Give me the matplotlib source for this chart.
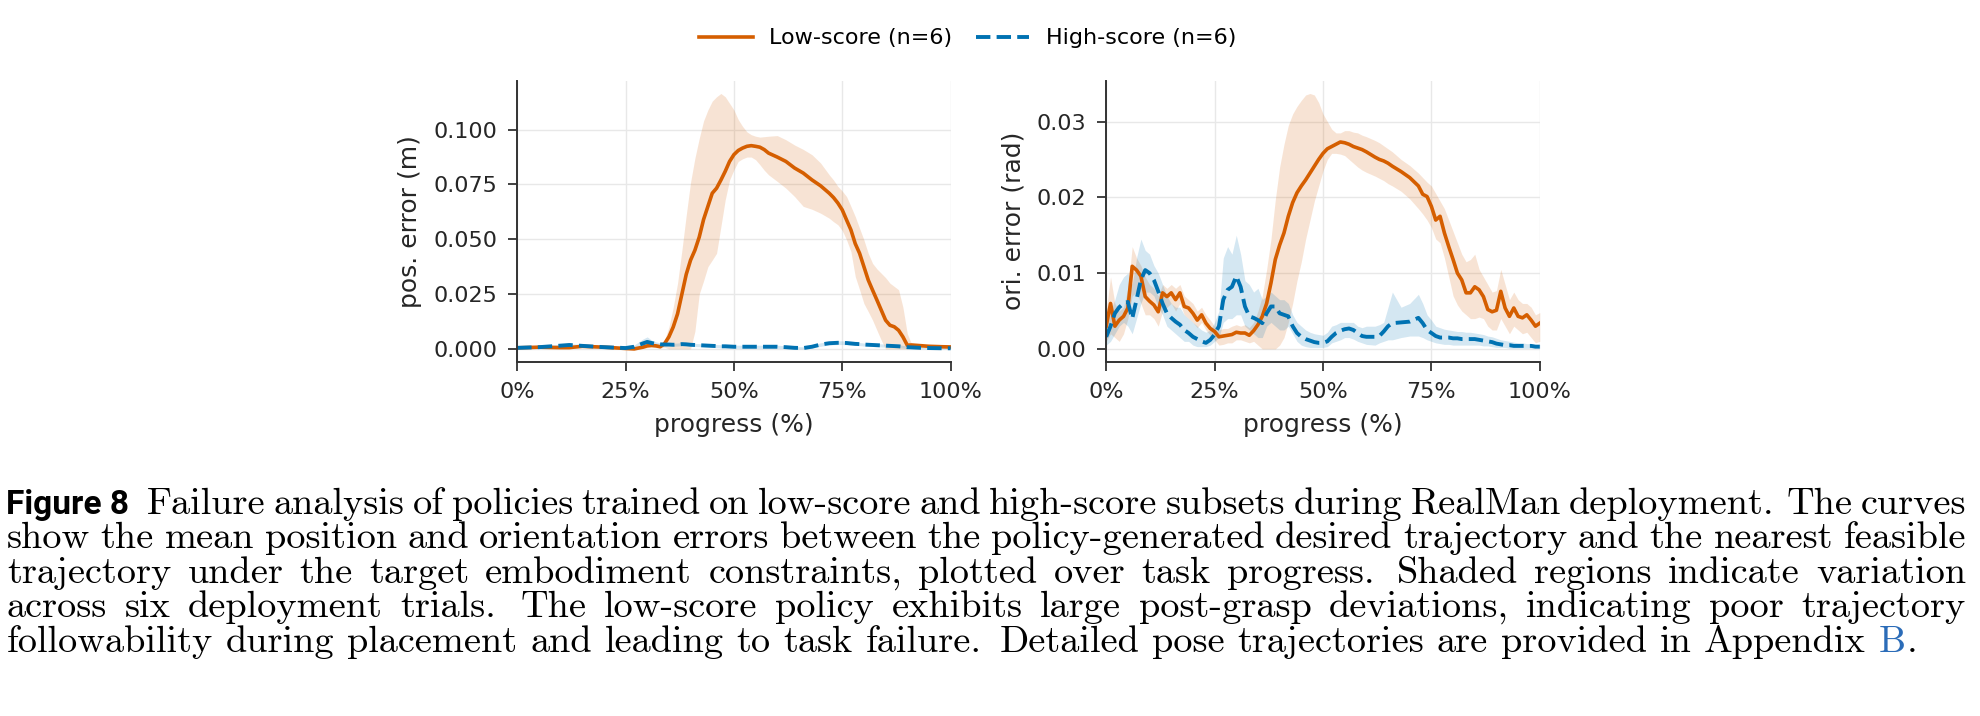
import matplotlib
matplotlib.use("Agg")
import matplotlib.pyplot as plt
from matplotlib.ticker import PercentFormatter, FormatStrFormatter

# ---------------- data ----------------
SERIES_LABELS = ["Low-score (n=6)", "High-score (n=6)"]
XTICKS = [0, 25, 50, 75, 100]
POS_YTICKS = [0.000, 0.025, 0.050, 0.075, 0.100]
ORI_YTICKS = [0.00, 0.01, 0.02, 0.03]

# left panel: position error (m)
pos_x = [0, 5, 10, 12, 15, 20, 25, 27, 29,
         30, 31, 32, 33, 34, 35, 36, 37, 38, 39,
         40, 41, 42, 43, 44, 45, 46, 47, 48, 49,
         50, 51, 52, 53, 54, 55, 56, 57, 58,
         60, 62, 64, 66, 68, 70, 72,
         73, 74, 75, 76, 77, 78, 79, 80, 81, 82, 83, 84, 85, 86, 87, 88, 89, 90, 91,
         93, 95, 98, 100]
pos_low_mean = [0.0005, 0.0008, 0.0006, 0.0006, 0.0012, 0.0008, 0.0002, 0.0000, 0.0008,
                0.0014, 0.0016, 0.0014, 0.0010, 0.0024, 0.0055, 0.0100, 0.0160, 0.0250, 0.0340,
                0.0405, 0.0450, 0.0510, 0.0590, 0.0650, 0.0710, 0.0733, 0.0770, 0.0810, 0.0855,
                0.0886, 0.0905, 0.0916, 0.0924, 0.0927, 0.0924, 0.0920, 0.0909, 0.0893,
                0.0875, 0.0855, 0.0825, 0.0802, 0.0771, 0.0744, 0.0710,
                0.0690, 0.0665, 0.0634, 0.0588, 0.0543, 0.0480, 0.0436, 0.0375, 0.0314, 0.0268,
                0.0223, 0.0177, 0.0131, 0.0108, 0.0101, 0.0085, 0.0055, 0.0017, 0.0018,
                0.0015, 0.0012, 0.0010, 0.0009]
pos_low_upper = [0.0012, 0.0015, 0.0012, 0.0012, 0.0018, 0.0013, 0.0006, 0.0004, 0.0014,
                 0.0022, 0.0024, 0.0022, 0.0018, 0.0040, 0.0100, 0.0190, 0.0300, 0.0450, 0.0610,
                 0.0760, 0.0870, 0.0960, 0.1040, 0.1090, 0.1130, 0.1150, 0.1165, 0.1150, 0.1120,
                 0.1090, 0.1046, 0.1015, 0.0990, 0.0977, 0.0970, 0.0966, 0.0968, 0.0970,
                 0.0973, 0.0954, 0.0930, 0.0910, 0.0886, 0.0848, 0.0794,
                 0.0770, 0.0741, 0.0720, 0.0695, 0.0650, 0.0604, 0.0550, 0.0497, 0.0436, 0.0390,
                 0.0365, 0.0345, 0.0325, 0.0300, 0.0285, 0.0270, 0.0190, 0.0070, 0.0022,
                 0.0020, 0.0018, 0.0016, 0.0015]
pos_low_lower = [0.0000, 0.0002, 0.0001, 0.0001, 0.0006, 0.0003, 0.0000, 0.0000, 0.0002,
                 0.0006, 0.0008, 0.0006, 0.0004, 0.0008, 0.0000, 0.0000, 0.0000, 0.0000, 0.0000,
                 0.0000, 0.0080, 0.0250, 0.0310, 0.0375, 0.0405, 0.0436, 0.0558, 0.0680, 0.0770,
                 0.0817, 0.0855, 0.0867, 0.0875, 0.0875, 0.0863, 0.0840, 0.0815, 0.0794,
                 0.0764, 0.0733, 0.0695, 0.0650, 0.0637, 0.0619, 0.0596,
                 0.0580, 0.0566, 0.0540, 0.0497, 0.0444, 0.0330, 0.0270, 0.0207, 0.0170, 0.0131,
                 0.0085, 0.0040, 0.0000, 0.0000, 0.0000, 0.0000, 0.0000, 0.0000, 0.0008,
                 0.0008, 0.0006, 0.0004, 0.0003]
pos_high_mean = [0.0005, 0.0008, 0.0015, 0.0018, 0.0014, 0.0008, 0.0004, 0.0010, 0.0025,
                 0.0032, 0.0027, 0.0023, 0.0021, 0.0020, 0.0020, 0.0019, 0.0020, 0.0022, 0.0021,
                 0.0019, 0.0018, 0.0017, 0.0016, 0.0015, 0.0014, 0.0013, 0.0012, 0.0012, 0.0011,
                 0.0010, 0.0010, 0.0010, 0.0010, 0.0010, 0.0010, 0.0010, 0.0010, 0.0010,
                 0.0010, 0.0008, 0.0005, 0.0004, 0.0010, 0.0020, 0.0026,
                 0.0027, 0.0028, 0.0028, 0.0027, 0.0025, 0.0023, 0.0022, 0.0020, 0.0019, 0.0018,
                 0.0017, 0.0016, 0.0015, 0.0014, 0.0013, 0.0012, 0.0010, 0.0008, 0.0007,
                 0.0005, 0.0004, 0.0003, 0.0003]
pos_high_upper = [0.0011, 0.0014, 0.0021, 0.0024, 0.0020, 0.0014, 0.0010, 0.0018, 0.0045,
                  0.0055, 0.0040, 0.0032, 0.0028, 0.0027, 0.0027, 0.0026, 0.0027, 0.0029, 0.0028,
                  0.0026, 0.0025, 0.0024, 0.0023, 0.0022, 0.0021, 0.0020, 0.0019, 0.0019, 0.0018,
                  0.0017, 0.0017, 0.0017, 0.0017, 0.0017, 0.0017, 0.0017, 0.0017, 0.0017,
                  0.0017, 0.0014, 0.0011, 0.0010, 0.0017, 0.0028, 0.0034,
                  0.0036, 0.0037, 0.0037, 0.0036, 0.0033, 0.0030, 0.0029, 0.0027, 0.0026, 0.0025,
                  0.0024, 0.0023, 0.0022, 0.0021, 0.0020, 0.0019, 0.0016, 0.0014, 0.0013,
                  0.0010, 0.0009, 0.0008, 0.0008]
pos_high_lower = [0.0000, 0.0002, 0.0009, 0.0012, 0.0008, 0.0002, 0.0000, 0.0003, 0.0010,
                  0.0015, 0.0016, 0.0015, 0.0014, 0.0013, 0.0013, 0.0012, 0.0013, 0.0015, 0.0014,
                  0.0012, 0.0011, 0.0010, 0.0009, 0.0008, 0.0007, 0.0006, 0.0005, 0.0005, 0.0004,
                  0.0003, 0.0003, 0.0003, 0.0003, 0.0003, 0.0003, 0.0003, 0.0003, 0.0003,
                  0.0003, 0.0002, 0.0000, 0.0000, 0.0004, 0.0012, 0.0018,
                  0.0019, 0.0020, 0.0020, 0.0019, 0.0017, 0.0016, 0.0015, 0.0013, 0.0012, 0.0011,
                  0.0010, 0.0009, 0.0008, 0.0007, 0.0006, 0.0005, 0.0004, 0.0002, 0.0002,
                  0.0001, 0.0000, 0.0000, 0.0000]

# right panel: orientation error (rad)
ori_x = (list(range(0, 61)) + [62, 63, 64, 65, 66, 68, 70, 72] + list(range(73, 101)))
ori_low_mean = [0.0030, 0.0060, 0.0030, 0.0038, 0.0043, 0.0054, 0.0109, 0.0104, 0.0096, 0.0069,
                0.0063, 0.0058, 0.0049, 0.0074, 0.0069, 0.0074, 0.0065, 0.0074, 0.0056, 0.0054,
                0.0047, 0.0038, 0.0045, 0.0034, 0.0027, 0.0023, 0.0016, 0.0017, 0.0018, 0.0019,
                0.0022, 0.0021, 0.0021, 0.0018, 0.0024, 0.0032, 0.0043, 0.0060, 0.0087, 0.0118,
                0.0137, 0.0153, 0.0175, 0.0193, 0.0206, 0.0215, 0.0223, 0.0232, 0.0241, 0.0250,
                0.0258, 0.0264, 0.0267, 0.0270, 0.0273, 0.0272, 0.0270, 0.0267, 0.0265, 0.0263,
                0.0260,
                0.0253, 0.0250, 0.0248, 0.0245, 0.0241, 0.0234, 0.0226, 0.0215,
                0.0204, 0.0201, 0.0188, 0.0170, 0.0175, 0.0153, 0.0135, 0.0118, 0.0100, 0.0091,
                0.0074, 0.0074, 0.0082, 0.0078, 0.0069, 0.0052, 0.0049, 0.0051, 0.0076, 0.0054,
                0.0043, 0.0054, 0.0043, 0.0041, 0.0045, 0.0038, 0.0030, 0.0034]
ori_low_upper = [0.0050, 0.0095, 0.0060, 0.0050, 0.0055, 0.0080, 0.0135, 0.0120, 0.0110, 0.0095,
                 0.0085, 0.0080, 0.0070, 0.0085, 0.0080, 0.0085, 0.0080, 0.0085, 0.0070, 0.0065,
                 0.0060, 0.0050, 0.0055, 0.0045, 0.0038, 0.0030, 0.0025, 0.0027, 0.0027, 0.0030,
                 0.0032, 0.0030, 0.0032, 0.0028, 0.0035, 0.0050, 0.0070, 0.0105, 0.0145, 0.0197,
                 0.0240, 0.0270, 0.0295, 0.0310, 0.0320, 0.0328, 0.0335, 0.0337, 0.0335, 0.0325,
                 0.0310, 0.0300, 0.0290, 0.0285, 0.0285, 0.0288, 0.0288, 0.0286, 0.0285, 0.0282,
                 0.0280,
                 0.0275, 0.0272, 0.0268, 0.0264, 0.0260, 0.0250, 0.0242, 0.0232,
                 0.0226, 0.0220, 0.0215, 0.0205, 0.0195, 0.0185, 0.0170, 0.0155, 0.0140, 0.0125,
                 0.0115, 0.0118, 0.0125, 0.0105, 0.0095, 0.0085, 0.0075, 0.0077, 0.0105, 0.0085,
                 0.0065, 0.0075, 0.0065, 0.0060, 0.0060, 0.0055, 0.0045, 0.0048]
ori_low_lower = [0.0010, 0.0020, 0.0015, 0.0010, 0.0020, 0.0040, 0.0070, 0.0075, 0.0060, 0.0045,
                 0.0045, 0.0040, 0.0030, 0.0050, 0.0055, 0.0060, 0.0050, 0.0060, 0.0045, 0.0040,
                 0.0035, 0.0028, 0.0035, 0.0025, 0.0018, 0.0012, 0.0005, 0.0006, 0.0008, 0.0008,
                 0.0012, 0.0012, 0.0010, 0.0008, 0.0010, 0.0005, 0.0000, 0.0000, 0.0000, 0.0000,
                 0.0005, 0.0015, 0.0035, 0.0060, 0.0090, 0.0115, 0.0145, 0.0170, 0.0195, 0.0215,
                 0.0235, 0.0250, 0.0258, 0.0258, 0.0257, 0.0255, 0.0250, 0.0245, 0.0240, 0.0236,
                 0.0233,
                 0.0228, 0.0225, 0.0222, 0.0218, 0.0215, 0.0208, 0.0198, 0.0185,
                 0.0178, 0.0170, 0.0160, 0.0145, 0.0140, 0.0120, 0.0095, 0.0070, 0.0058, 0.0050,
                 0.0045, 0.0040, 0.0040, 0.0042, 0.0040, 0.0030, 0.0025, 0.0025, 0.0040, 0.0030,
                 0.0020, 0.0030, 0.0025, 0.0020, 0.0022, 0.0015, 0.0008, 0.0010]
ori_high_mean = [0.0016, 0.0030, 0.0047, 0.0055, 0.0060, 0.0062, 0.0040, 0.0065, 0.0091, 0.0104,
                 0.0100, 0.0091, 0.0076, 0.0060, 0.0047, 0.0041, 0.0036, 0.0032, 0.0025, 0.0021,
                 0.0016, 0.0013, 0.0010, 0.0008, 0.0012, 0.0019, 0.0030, 0.0065, 0.0078, 0.0082,
                 0.0096, 0.0082, 0.0056, 0.0043, 0.0041, 0.0038, 0.0034, 0.0047, 0.0056, 0.0056,
                 0.0047, 0.0045, 0.0043, 0.0030, 0.0021, 0.0016, 0.0013, 0.0011, 0.0009, 0.0008,
                 0.0008, 0.0010, 0.0016, 0.0021, 0.0024, 0.0026, 0.0027, 0.0025, 0.0021, 0.0017,
                 0.0016,
                 0.0016, 0.0017, 0.0023, 0.0030, 0.0034, 0.0035, 0.0036, 0.0041,
                 0.0034, 0.0025, 0.0021, 0.0017, 0.0015, 0.0015, 0.0015, 0.0014, 0.0014, 0.0013,
                 0.0013, 0.0013, 0.0013, 0.0012, 0.0011, 0.0010, 0.0009, 0.0007, 0.0006, 0.0005,
                 0.0005, 0.0004, 0.0004, 0.0004, 0.0004, 0.0004, 0.0003, 0.0003]
ori_high_upper = [0.0035, 0.0050, 0.0065, 0.0085, 0.0095, 0.0100, 0.0085, 0.0120, 0.0145, 0.0130,
                  0.0125, 0.0110, 0.0100, 0.0085, 0.0070, 0.0060, 0.0055, 0.0055, 0.0045, 0.0040,
                  0.0035, 0.0030, 0.0025, 0.0022, 0.0025, 0.0035, 0.0050, 0.0120, 0.0135, 0.0125,
                  0.0150, 0.0125, 0.0090, 0.0085, 0.0075, 0.0080, 0.0065, 0.0070, 0.0075, 0.0070,
                  0.0065, 0.0065, 0.0060, 0.0045, 0.0035, 0.0030, 0.0025, 0.0022, 0.0020, 0.0019,
                  0.0018, 0.0022, 0.0030, 0.0032, 0.0035, 0.0035, 0.0035, 0.0035, 0.0030, 0.0028,
                  0.0030,
                  0.0030, 0.0032, 0.0035, 0.0055, 0.0075, 0.0055, 0.0060, 0.0072,
                  0.0060, 0.0045, 0.0038, 0.0030, 0.0028, 0.0026, 0.0025, 0.0024, 0.0023, 0.0023,
                  0.0022, 0.0022, 0.0021, 0.0020, 0.0019, 0.0017, 0.0016, 0.0014, 0.0012, 0.0011,
                  0.0010, 0.0009, 0.0008, 0.0008, 0.0007, 0.0007, 0.0006, 0.0006]
ori_high_lower = [0.0005, 0.0010, 0.0020, 0.0030, 0.0035, 0.0030, 0.0020, 0.0040, 0.0060, 0.0075,
                  0.0075, 0.0070, 0.0055, 0.0045, 0.0030, 0.0025, 0.0020, 0.0015, 0.0010, 0.0010,
                  0.0005, 0.0003, 0.0003, 0.0003, 0.0005, 0.0010, 0.0015, 0.0035, 0.0040, 0.0040,
                  0.0045, 0.0045, 0.0030, 0.0025, 0.0020, 0.0015, 0.0015, 0.0030, 0.0035, 0.0030,
                  0.0025, 0.0025, 0.0030, 0.0020, 0.0010, 0.0005, 0.0003, 0.0002, 0.0002, 0.0002,
                  0.0002, 0.0003, 0.0008, 0.0010, 0.0012, 0.0015, 0.0015, 0.0013, 0.0010, 0.0008,
                  0.0006,
                  0.0005, 0.0008, 0.0010, 0.0012, 0.0012, 0.0015, 0.0017, 0.0017,
                  0.0015, 0.0012, 0.0010, 0.0008, 0.0007, 0.0006, 0.0006, 0.0005, 0.0005, 0.0005,
                  0.0005, 0.0005, 0.0005, 0.0005, 0.0004, 0.0004, 0.0003, 0.0002, 0.0002, 0.0002,
                  0.0001, 0.0001, 0.0001, 0.0001, 0.0001, 0.0001, 0.0001, 0.0001]

CAPTION_LABEL = "Figure 8"
CAPTION_LINES = [
    "Failure analysis of policies trained on low-score and high-score subsets during RealMan deployment. The curves",
    "show the mean position and orientation errors between the policy-generated desired trajectory and the nearest feasible",
    "trajectory under the target embodiment constraints, plotted over task progress. Shaded regions indicate variation",
    "across six deployment trials. The low-score policy exhibits large post-grasp deviations, indicating poor trajectory",
    "followability during placement and leading to task failure. Detailed pose trajectories are provided in Appendix",
]
CAPTION_LINK = "B"

# ---------------- figure ----------------
W, H = 1981, 716
fig = plt.figure(figsize=(W / 100, H / 100), dpi=100)
ORANGE = "#D55E00"
BLUE = "#0072B2"
TXT = "#262626"
SPINE = "#333333"


def px_axes(x0, y0, x1, y1):
    return fig.add_axes([x0 / W, 1 - y1 / H, (x1 - x0) / W, (y1 - y0) / H])


axL = px_axes(517.2, 80.7, 950.6, 361.7)
axR = px_axes(1106.2, 80.7, 1539.8, 361.7)

panels = [
    (axL, pos_x, pos_low_mean, pos_low_upper, pos_low_lower,
     pos_high_mean, pos_high_upper, pos_high_lower, "pos. error (m)", POS_YTICKS, "%.3f", -0.2197),
    (axR, ori_x, ori_low_mean, ori_low_upper, ori_low_lower,
     ori_high_mean, ori_high_upper, ori_high_lower, "ori. error (rad)", ORI_YTICKS, "%.2f", -0.187),
]

for (ax, x, lm, lu, ll, hm, hu, hl, ylab, yt, fmt, ylx) in panels:
    ax.fill_between(x, ll, lu, color=ORANGE, alpha=0.17, lw=0)
    ax.fill_between(x, hl, hu, color=BLUE, alpha=0.17, lw=0)
    ax.plot(x, lm, color=ORANGE, lw=2.6, label=SERIES_LABELS[0])
    ax.plot(x, hm, color=BLUE, lw=2.8, ls="--", label=SERIES_LABELS[1])
    ax.set_xlim(0, 100)
    ax.set_xticks(XTICKS)
    ax.xaxis.set_major_formatter(PercentFormatter(xmax=100, decimals=0))
    ax.set_yticks(yt)
    ax.yaxis.set_major_formatter(FormatStrFormatter(fmt))
    ax.grid(True, color="#e8e8e8", lw=1.0)
    ax.set_axisbelow(True)
    for s in ("top", "right"):
        ax.spines[s].set_visible(False)
    for s in ("left", "bottom"):
        ax.spines[s].set_color(SPINE)
        ax.spines[s].set_linewidth(1.4)
    ax.tick_params(axis="both", length=6.5, width=1.3, color=SPINE, pad=8,
                   labelsize=16, labelcolor=TXT)
    ax.set_xlabel("progress (%)", fontsize=18, color=TXT, labelpad=8)
    ax.set_ylabel(ylab, fontsize=18, color=TXT)
    ax.yaxis.set_label_coords(ylx, 0.5)

handles, labels = axL.get_legend_handles_labels()
fig.legend(handles, labels, loc="center", bbox_to_anchor=(967.7 / W, 1 - 38.3 / H),
           ncol=2, frameon=False, fontsize=16, handlelength=2.4,
           handletextpad=0.76, columnspacing=1.04)

# ---------------- caption (justified) ----------------
renderer = fig.canvas.get_renderer()
SERIF = "cmr10"
LABEL_FONT = ["Roboto", "DejaVu Sans"]
LEFT_X, RIGHT_X = 7.0, 1966.0
LAST_END = 1915.0
BASE0, LEAD = 514.0, 34.4


def width_of(s, fs, family, weight="normal"):
    t = fig.text(0, 0, s, fontsize=fs, family=family, weight=weight)
    w = t.get_window_extent(renderer).width
    t.remove()
    return w


def is_sentence_end(word):
    return word.endswith(".")


# font size from the natural width of the last line
fs0 = 20.0
last_words = CAPTION_LINES[-1].split() + [CAPTION_LINK + "."]
w0 = sum(width_of(w, fs0, SERIF) for w in last_words)
sp_units = sum(1.4 if is_sentence_end(w) else 1.0 for w in last_words[:-1])
sp0 = 0.333 * fs0 * 100 / 72
fs = fs0 * (LAST_END - LEFT_X) / (w0 + sp_units * sp0)
space_nat = 0.333 * fs * 100 / 72

# label "Figure 8"
lab_fs = fs * 123.0 / width_of(CAPTION_LABEL, fs, LABEL_FONT, "bold")
fig.text(6 / W, 1 - BASE0 / H, CAPTION_LABEL, fontsize=lab_fs, family=LABEL_FONT,
         weight="bold", color="black", va="baseline", ha="left")

for i, line in enumerate(CAPTION_LINES):
    words = line.split()
    last = (i == len(CAPTION_LINES) - 1)
    x_start = 146.5 if i == 0 else LEFT_X
    base = BASE0 + i * LEAD
    widths = [width_of(w, fs, SERIF) for w in words]
    units = [1.4 if is_sentence_end(w) else 1.0 for w in words[:-1]]
    if last:
        unit = space_nat
    else:
        unit = (RIGHT_X - x_start - sum(widths)) / sum(units)
    x = x_start
    for j, w in enumerate(words):
        fig.text(x / W, 1 - base / H, w, fontsize=fs, family=SERIF, color="black",
                 va="baseline", ha="left")
        x += widths[j]
        if j < len(units):
            x += unit * units[j]
    if last:
        x += space_nat
        t = fig.text(x / W, 1 - base / H, CAPTION_LINK, fontsize=fs, family=SERIF,
                     color="#2B6CB8", va="baseline", ha="left")
        x += t.get_window_extent(renderer).width + 0.5
        fig.text(x / W, 1 - base / H, ".", fontsize=fs, family=SERIF, color="black",
                 va="baseline", ha="left")

fig.savefig("out.png", dpi=100)
